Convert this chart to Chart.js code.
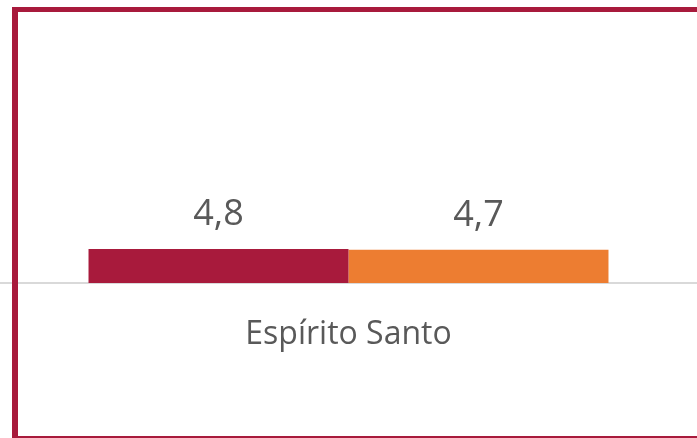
<!DOCTYPE html>
<html>
<head>
  <meta charset="utf-8">
  <title>Espírito Santo</title>
  <script src="https://cdn.jsdelivr.net/npm/chart.js"></script>
  <style>
    html, body { margin: 0; padding: 0; background: #fff; overflow: hidden; }
    #wrap { position: relative; width: 697px; height: 438px; }
    #frame {
      position: absolute; left: 12px; top: 7px; width: 700px; height: 424px;
      border-left: 6px solid #A81A3C; border-top: 5px solid #A81A3C; border-bottom: 2px solid #A81A3C;
      pointer-events: none;
    }
  </style>
</head>
<body>
  <div id="wrap">
    <canvas id="chart" width="697" height="438"></canvas>
    <div id="frame"></div>
  </div>

  <script>
    const categories = ["Espírito Santo"];
    const seriesA = [4.8];
    const seriesB = [4.7];
    const colors = ["#A81A3C", "#ED7D31"];

    // value labels above bars, comma decimal
    const valueLabels = {
      id: 'valueLabels',
      afterDatasetsDraw(chart) {
        const ctx = chart.ctx;
        ctx.save();
        ctx.font = '36px "Open Sans"';
        ctx.fillStyle = '#595959';
        ctx.textAlign = 'center';
        ctx.textBaseline = 'bottom';
        chart.data.datasets.forEach((ds, i) => {
          chart.getDatasetMeta(i).data.forEach((bar, j) => {
            const txt = ds.data[j].toFixed(1).replace('.', ',');
            ctx.fillText(txt, bar.x, bar.y - 16);
          });
        });
        ctx.restore();
      }
    };

    new Chart(document.getElementById('chart'), {
      type: 'bar',
      data: {
        labels: categories,
        datasets: [
          { data: seriesA, backgroundColor: colors[0] },
          { data: seriesB, backgroundColor: colors[1] }
        ]
      },
      options: {
        responsive: false,
        animation: false,
        layout: { padding: 0 },
        plugins: { legend: { display: false }, tooltip: { enabled: false } },
        datasets: { bar: { barPercentage: 1, categoryPercentage: 0.746 } },
        scales: {
          x: {
            grid: { display: false, drawTicks: false },
            border: { display: true, color: '#D9D9D9', width: 2 },
            ticks: { color: '#595959', font: { family: 'Open Sans', size: 32 }, padding: 33 },
            afterFit(scale) { scale.height = 155; }
          },
          y: { display: false, min: 0, max: 40 }
        }
      },
      plugins: [valueLabels]
    });
  </script>
</body>
</html>
